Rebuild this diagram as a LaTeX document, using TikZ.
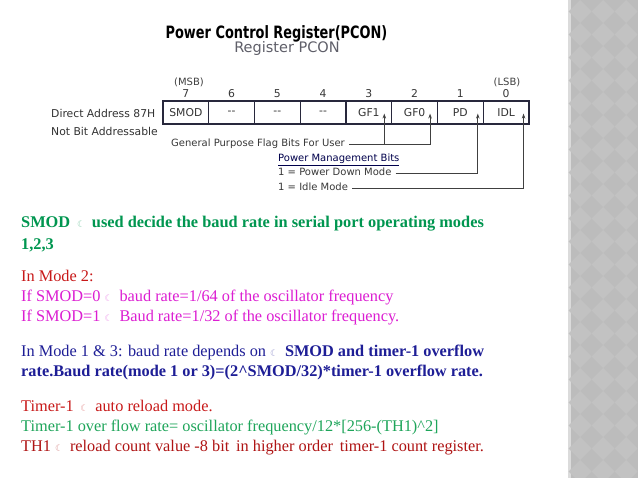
\documentclass[tikz,border=0pt]{standalone}
\usepackage{fontspec}
\setmainfont{Liberation Serif}
\newfontfamily\dv{DejaVu Sans}
\newfontfamily\dvtitle[FakeStretch=0.76]{DejaVu Sans}
\usetikzlibrary{arrows.meta}
\definecolor{tgreen}{RGB}{0,150,80}
\definecolor{tred}{RGB}{200,25,25}
\definecolor{tmag}{RGB}{220,30,210}
\definecolor{tblue}{RGB}{30,30,150}
\definecolor{tgreen2}{RGB}{30,165,90}
\definecolor{tdred}{RGB}{175,20,20}
\definecolor{strip}{RGB}{188,188,188}
\definecolor{stripd}{RGB}{194,194,194}
\definecolor{regline}{RGB}{40,40,60}
\definecolor{subgray}{RGB}{95,95,105}
\newcommand{\moon}[1]{{\dv\fontsize{9}{9}\selectfont\textcolor{#1!45!white}{☾}}}
\tikzset{
  txt/.style={anchor=base west, inner sep=0pt, font=\fontsize{16.3}{18}\selectfont},
  lab/.style={anchor=base west, inner sep=0pt, font=\dv\fontsize{10.8}{12}\selectfont, text=black!80},
  small/.style={anchor=base west, inner sep=0pt, font=\dv\fontsize{10}{11}\selectfont, text=black!78},
  bitnum/.style={anchor=base, inner sep=0pt, font=\dv\fontsize{10.8}{12}\selectfont, text=black!78},
  cell/.style={draw=regline, line width=1.1pt, minimum width=45.75pt, minimum height=23pt, inner sep=0pt, font=\dv\fontsize{10.8}{12}\selectfont, text=black!80},
  arr/.style={draw=black!75, line width=0.8pt, -{Stealth[length=5pt,width=3.5pt]}},
}
\begin{document}
\begin{tikzpicture}[x=1pt,y=-1pt]
\useasboundingbox (0,0) rectangle (638,478);
\fill[white] (0,0) rectangle (638,478);
% side strip
\fill[strip] (568,0) rectangle (638,478);
\fill[black!14] (568,0) rectangle (571,478);
\foreach \i in {0,...,3}{
  \foreach \j in {0,...,21}{
    \fill[stripd] ({580+\i*23},{\j*23}) -- ++(11.5,11.5) -- ++(-11.5,11.5) -- ++(-11.5,-11.5) -- cycle;
  }
}
% titles
\node[anchor=base, inner sep=0pt, font=\dvtitle\bfseries\fontsize{17}{19}\selectfont] (title) at (276.5,39) {Power Control Register(PCON)};
\node[anchor=base, inner sep=0pt, font=\dv\fontsize{14.5}{16}\selectfont, text=subgray] (sub) at (287,52.7) {Register PCON};
% register cells
\foreach \b/\t [count=\k from 0] in {7/SMOD,6/--,5/--,4/--,3/GF1,2/GF0,1/PD,0/IDL}{
  \node[cell] (c\b) at ({185.875+\k*45.75},112.5) {\t};
  \node[bitnum] (n\b) at ({185.875+\k*45.75},98) {\b};
}
\node[anchor=base, inner sep=0pt, font=\dv\fontsize{10}{11}\selectfont, text=black!75] (msb) at (189,86) {(MSB)};
\node[anchor=base, inner sep=0pt, font=\dv\fontsize{10}{11}\selectfont, text=black!75] (lsb) at (507,86) {(LSB)};
\node[lab] (addr) at (51,117.3) {Direct Address 87H};
\node[lab] (nba) at (51,135.5) {Not Bit Addressable};
\node[small] (gp) at (171,147) {General Purpose Flag Bits For User};
\node[small, text=black!70!blue] (pm) at (278,161.5) {\underline{Power Management Bits}};
\node[small] (pd) at (278,176) {1 = Power Down Mode};
\node[small] (idl) at (278,191) {1 = Idle Mode};
% connectors
\coordinate (a3) at ([xshift=-8pt]c3.south east);
\coordinate (a2) at ([xshift=-8pt]c2.south east);
\coordinate (a1) at ([xshift=-6pt]c1.south east);
\coordinate (a0) at ([xshift=-6pt]c0.south east);
\coordinate (gpe) at ([xshift=4pt,yshift=3pt]gp.base east);
\coordinate (pde) at ([xshift=4pt,yshift=3pt]pd.base east);
\coordinate (idle) at ([xshift=4pt,yshift=3pt]idl.base east);
\draw[arr] (gpe) -| ([yshift=11pt]a2);
\draw[arr] (gpe -| a3) -- ([yshift=11pt]a3);
\draw[arr] (pde) -| ([yshift=11pt]a1);
\draw[arr] (idle) -| ([yshift=11pt]a0);
% body text
\node[txt, text=tgreen, font=\bfseries\fontsize{16.35}{18}\selectfont] (l1) at (21,228) {SMOD \,\moon{tgreen}\, used decide the baud rate in serial port operating modes};
\node[txt, text=tgreen, font=\bfseries\fontsize{16.35}{18}\selectfont] (l2) at (21,250) {1,2,3};
\node[txt, text=tred] (l3) at (21,282) {In Mode 2:};
\node[txt, text=tmag] (l4) at (21,302) {If SMOD=0 \moon{tmag} \,baud rate=1/64 of the oscillator frequency};
\node[txt, text=tmag] (l5) at (21,322) {If SMOD=1 \moon{tmag} \,Baud rate=1/32 of the oscillator frequency.};
\node[txt, text=tblue] (l6) at (21,357) {In Mode 1 \& 3: baud rate depends on \moon{tblue} \,\textbf{SMOD and timer-1 overflow}};
\node[txt, text=tblue, font=\bfseries\fontsize{16.3}{18}\selectfont] (l7) at (21,377) {rate.Baud rate(mode 1 or 3)=(2\^{}SMOD/32)*timer-1 overflow rate.};
\node[txt, text=tred] (l8) at (21,412) {Timer-1 \,\moon{tred}\, auto reload mode.};
\node[txt, text=tgreen2] (l9) at (21,432) {Timer-1 over flow rate= oscillator frequency/12*[256-(TH1)\^{}2]};
\node[txt, text=tdred] (l10) at (21,452) {TH1 \moon{tdred} \,reload count value -8 bit \,in higher order \,timer-1 count register.};
\end{tikzpicture}
\end{document}
